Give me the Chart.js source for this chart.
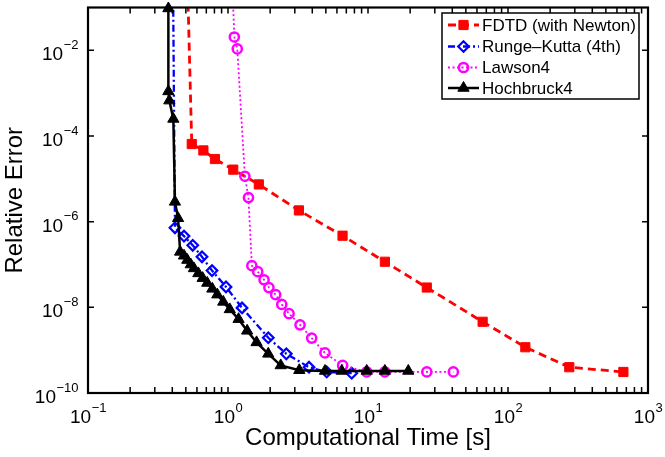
<!DOCTYPE html>
<html>
<head>
<meta charset="utf-8">
<script src="https://cdn.jsdelivr.net/npm/chart.js@4.4.0/dist/chart.umd.min.js"></script>
<style>
  html, body { margin: 0; padding: 0; background: #fff; }
  #wrap { width: 665px; height: 457px; }
</style>
</head>
<body>
<div id="wrap"><canvas id="chart"></canvas></div>
<script>
const FONT = '"Liberation Sans", Arial, Helvetica, sans-serif';

const seriesNames = ['FDTD (with Newton)', 'Runge\u2013Kutta (4th)', 'Lawson4', 'Hochbruck4'];

// computational time [s] / relative error
const fdtdTime = [0.51, 0.551, 0.667, 0.807, 1.09, 1.66, 3.21, 6.58, 13.2, 26.3, 65.9, 133, 274, 667];
const fdtdErr  = [1, 6.5e-5, 4.6e-5, 2.9e-5, 1.64e-5, 7.4e-6, 1.83e-6, 4.7e-7, 1.16e-7, 2.9e-8, 4.6e-9, 1.17e-9, 4.0e-10, 3.1e-10];

const rkTime = [0.404, 0.418, 0.485, 0.56, 0.652, 0.769, 0.968, 1.26, 1.94, 2.61, 3.79, 5.07, 7.65];
const rkErr  = [1, 7.2e-7, 4.6e-7, 2.8e-7, 1.51e-7, 7.2e-8, 3.0e-8, 9.7e-9, 1.95e-9, 8.2e-10, 4.0e-10, 3.1e-10, 2.9e-10];

const lawTime = [1.06, 1.11, 1.165, 1.32, 1.40, 1.48, 1.63, 1.81, 1.96, 2.19, 2.42, 2.73, 3.27, 3.96, 4.93, 6.59, 9.79, 13.2, 26.3, 40.7];
const lawErr  = [1, 2.05e-2, 1.08e-2, 1.15e-5, 3.65e-6, 9.4e-8, 6.8e-8, 4.4e-8, 2.9e-8, 1.98e-8, 1.17e-8, 7.1e-9, 3.9e-9, 1.92e-9, 8.6e-10, 4.4e-10, 3.1e-10, 3.1e-10, 3.1e-10, 3.1e-10];

const hbTime = [0.375, 0.375, 0.381, 0.407, 0.418, 0.44, 0.455, 0.485, 0.512, 0.542, 0.571, 0.614, 0.659, 0.711, 0.773, 0.839, 0.925, 1.03, 1.19, 1.37, 1.60, 1.94, 2.38, 3.23, 4.93, 6.49, 9.79, 13.2, 19.4];
const hbErr  = [0.095, 1.1e-3, 6.7e-4, 2.5e-4, 2.9e-6, 1.2e-6, 1.97e-7, 1.6e-7, 1.27e-7, 1.0e-7, 8.1e-8, 6.2e-8, 4.8e-8, 3.7e-8, 2.7e-8, 1.98e-8, 1.34e-8, 8.95e-9, 5.3e-9, 2.83e-9, 1.52e-9, 8.2e-10, 4.4e-10, 3.4e-10, 3.27e-10, 3.27e-10, 3.27e-10, 3.27e-10, 3.27e-10];

// tick labels are 10^exp
const xTickExp = [-1, 0, 1, 2, 3];
const yTickExp = [-10, -8, -6, -4, -2];

const pts = (xs, ys) => xs.map((v, i) => ({x: v, y: ys[i]}));

const datasets = [
  {label: seriesNames[0], data: pts(fdtdTime, fdtdErr), borderColor: '#ff0000', backgroundColor: '#ff0000',
   borderWidth: 2.8, borderDash: [8, 5], pointStyle: 'rect', pointRadius: 6.5, pointBorderWidth: 1, order: 4},
  {label: seriesNames[1], data: pts(rkTime, rkErr), borderColor: '#0000ff', backgroundColor: 'rgba(0,0,0,0)',
   borderWidth: 2.3, borderDash: [7, 3, 2, 3], pointStyle: 'rectRot', pointRadius: 5.3, pointBorderWidth: 2.2, order: 3},
  {label: seriesNames[2], data: pts(lawTime, lawErr), borderColor: '#ff00ff', backgroundColor: 'rgba(0,0,0,0)',
   borderWidth: 1.8, borderDash: [2, 2.5], pointStyle: 'circle', pointRadius: 4.6, pointBorderWidth: 2.5, order: 2},
  {label: seriesNames[3], data: pts(hbTime, hbErr), borderColor: '#000000', backgroundColor: '#000000',
   borderWidth: 2.5, borderDash: [], pointStyle: 'triangle', pointRadius: 6.5, pointBorderWidth: 1, order: 1, clip: 8}
];
datasets.forEach(d => {
  d.showLine = true;
  d.pointBackgroundColor = d.backgroundColor;
  d.pointBorderColor = d.borderColor;
  d.tension = 0;
});

const sup = n => (n < 0 ? '\u2212' : '') + Math.abs(n);

// draws "10" with a raised exponent, anchored by its centre or right edge
const drawPow = (ctx, e, x, y, anchor) => {
  ctx.font = '19px ' + FONT;
  const wb = ctx.measureText('10').width;
  ctx.font = '13px ' + FONT;
  const ws = ctx.measureText(sup(e)).width;
  const w = wb + ws;
  const x0 = anchor === 'center' ? x - w / 2 : x - w;
  ctx.textAlign = 'left';
  ctx.textBaseline = 'alphabetic';
  ctx.font = '19px ' + FONT;
  ctx.fillText('10', x0, y);
  ctx.font = '13px ' + FONT;
  ctx.fillText(sup(e), x0 + wb + 0.5, y - 11.5);
};

const frame = {
  id: 'frame',
  afterDraw(chart) {
    const {ctx, chartArea: a} = chart;
    const x = chart.scales.x, y = chart.scales.y;
    ctx.save();
    ctx.strokeStyle = '#000';
    ctx.fillStyle = '#000';
    ctx.lineWidth = 1.5;
    ctx.beginPath();
    const tl = 6;
    for (let e = xTickExp[0]; e <= xTickExp[xTickExp.length - 1]; e++) {
      for (let m = 1; m <= 9; m++) {
        const v = m * Math.pow(10, e);
        if (v > x.max * 1.0001) break;
        const px = x.getPixelForValue(v);
        ctx.moveTo(px, a.bottom); ctx.lineTo(px, a.bottom - tl);
        ctx.moveTo(px, a.top); ctx.lineTo(px, a.top + tl);
      }
    }
    yTickExp.forEach(e => {
      const py = y.getPixelForValue(Math.pow(10, e));
      ctx.moveTo(a.left, py); ctx.lineTo(a.left + tl, py);
      ctx.moveTo(a.right, py); ctx.lineTo(a.right - tl, py);
    });
    ctx.stroke();
    ctx.lineWidth = 2.2;
    ctx.strokeRect(a.left, a.top, a.right - a.left, a.bottom - a.top);

    xTickExp.forEach(e => drawPow(ctx, e, x.getPixelForValue(Math.pow(10, e)), a.bottom + 30, 'center'));
    yTickExp.forEach(e => drawPow(ctx, e, a.left - 10, y.getPixelForValue(Math.pow(10, e)) + 10, 'right'));
    ctx.restore();
  }
};

const legendBox = {
  id: 'legendBox',
  afterDraw(chart) {
    const ctx = chart.ctx;
    const bx = 442, by = 13, bw = 197, bh = 86;
    ctx.save();
    ctx.fillStyle = '#fff';
    ctx.fillRect(bx, by, bw, bh);
    ctx.strokeStyle = '#000';
    ctx.lineWidth = 1.5;
    ctx.strokeRect(bx, by, bw, bh);
    const rows = [25, 46.5, 67.5, 88];
    chart.data.datasets.forEach((d, i) => {
      const cy = rows[i];
      ctx.strokeStyle = d.borderColor;
      ctx.lineWidth = d.borderWidth;
      ctx.setLineDash(d.borderDash);
      ctx.beginPath();
      ctx.moveTo(448, cy); ctx.lineTo(479, cy);
      ctx.stroke();
      ctx.setLineDash([]);
      ctx.fillStyle = d.pointBackgroundColor;
      ctx.strokeStyle = d.pointBorderColor;
      ctx.lineWidth = d.pointBorderWidth;
      Chart.helpers.drawPoint(ctx, {pointStyle: d.pointStyle, radius: d.pointRadius, rotation: 0, borderWidth: d.pointBorderWidth}, 463.5, cy);
      ctx.fillStyle = '#000';
      ctx.font = '17px ' + FONT;
      ctx.textAlign = 'left';
      ctx.textBaseline = 'middle';
      ctx.fillText(d.label, 482, cy + 1);
    });
    ctx.restore();
  }
};

new Chart(document.getElementById('chart'), {
  type: 'scatter',
  data: {datasets: datasets},
  options: {
    responsive: true,
    maintainAspectRatio: false,
    animation: false,
    layout: {padding: {top: 4, right: 17, left: 0, bottom: 0}},
    plugins: {legend: {display: false}, tooltip: {enabled: false}},
    scales: {
      x: {
        type: 'logarithmic', min: 0.1, max: 1000,
        grid: {display: false}, border: {display: false},
        ticks: {display: false},
        title: {display: true, text: 'Computational Time [s]', color: '#000',
                font: {family: FONT, size: 24}, padding: {top: 0, bottom: 4}},
        afterFit: s => { s.height = 64; }
      },
      y: {
        type: 'logarithmic', min: 1e-10, max: 1e-1,
        grid: {display: false}, border: {display: false},
        ticks: {display: false},
        title: {display: true, text: 'Relative Error', color: '#000',
                font: {family: FONT, size: 24}, padding: {top: 1, bottom: 0}},
        afterFit: s => { s.width = 88; }
      }
    }
  },
  plugins: [frame, legendBox]
});
</script>
</body>
</html>
